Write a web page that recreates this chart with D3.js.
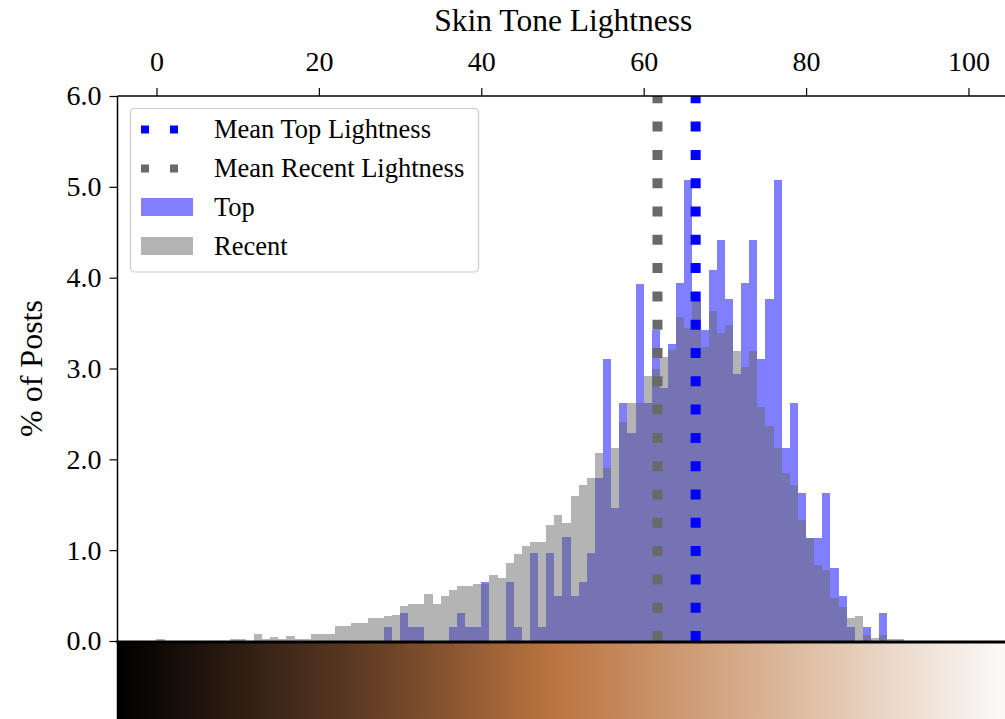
<!DOCTYPE html>
<html>
<head>
<meta charset="utf-8">
<script src="https://cdn.jsdelivr.net/npm/d3@7"></script>
<style>
  body { margin: 0; background: #fff; }
  svg text { font-family: "Liberation Serif", "DejaVu Serif", serif; fill: #000; }
</style>
</head>
<body>
<div id="chart"></div>
<script>
// histogram bins: one unit of lightness each, left edge = bin start
const binStarts = d3.range(0, 92);

// % of posts per bin, "Top" posts
const topPct = [
  0, 0, 0, 0, 0, 0, 0, 0, 0, 0,
  0, 0, 0, 0, 0, 0, 0, 0, 0, 0,
  0, 0, 0, 0, 0, 0, 0, 0, 0.15, 0,
  0.31, 0.15, 0.15, 0, 0, 0, 0.15, 0.31, 0.15, 0.15,
  0.65, 0, 0, 0.65, 0.15, 0, 0.97, 0.15, 0.97, 0.49,
  1.14, 0.49, 0.65, 0.97, 1.79, 3.10, 1.46, 2.62, 2.29, 3.93,
  2.62, 3.42, 2.78, 3.27, 3.94, 5.07, 3.74, 3.42, 4.08, 4.41,
  3.76, 2.94, 3.94, 4.41, 3.10, 3.76, 5.07, 2.12, 2.62, 1.63,
  1.13, 1.13, 1.63, 0.80, 0.49, 0.15, 0, 0.15, 0, 0.31,
  0, 0
];

// % of posts per bin, "Recent" posts
const recentPct = [
  0.02, 0, 0, 0, 0, 0, 0, 0, 0, 0.02,
  0.02, 0, 0.08, 0.02, 0.04, 0.02, 0.06, 0.02, 0.02, 0.08,
  0.08, 0.08, 0.165, 0.165, 0.2, 0.2, 0.25, 0.25, 0.27, 0.29,
  0.38, 0.41, 0.41, 0.52, 0.41, 0.50, 0.56, 0.61, 0.61, 0.63,
  0.63, 0.73, 0.69, 0.86, 0.96, 1.05, 1.09, 1.09, 1.28, 1.39,
  1.30, 1.60, 1.72, 1.79, 2.07, 1.90, 2.13, 2.41, 2.62, 2.62,
  2.92, 3.00, 3.13, 3.20, 3.57, 3.45, 3.74, 3.24, 3.63, 3.39,
  3.48, 3.19, 3.02, 3.19, 2.58, 2.37, 2.12, 1.85, 1.72, 1.33,
  1.13, 0.84, 0.78, 0.47, 0.37, 0.25, 0.27, 0.07, 0.03, 0.07,
  0.02, 0.02
];

const meanTop = 66.4;
const meanRecent = 61.7;

const xTicks = [0, 20, 40, 60, 80, 100];
const yTicks = [0, 1, 2, 3, 4, 5, 6];

const legendItems = [
  { label: 'Mean Top Lightness', type: 'line', color: '#0000ff' },
  { label: 'Mean Recent Lightness', type: 'line', color: '#696969' },
  { label: 'Top', type: 'patch', color: 'rgba(0,0,255,0.5)' },
  { label: 'Recent', type: 'patch', color: 'rgba(105,105,105,0.5)' }
];

// colorbar stops (skin tone scale)
const cbarStops = [
  { offset: 0, color: '#000000' },
  { offset: 0.25, color: '#553520' },
  { offset: 0.49, color: '#bb7440' },
  { offset: 0.75, color: '#dcb89c' },
  { offset: 1, color: '#fcfbfa' }
];

const width = 1005, height = 719;
const plotLeft = 117.5, plotTop = 96, plotBottom = 641;

const x = d3.scaleLinear().domain([-4.8, 105]).range([plotLeft, plotLeft + 109.8 * 8.12]);
const y = d3.scaleLinear().domain([0, 6]).range([plotBottom, plotTop]);

const svg = d3.select('#chart').append('svg')
  .attr('width', width).attr('height', height);

svg.append('rect').attr('width', width).attr('height', height).attr('fill', '#fff');

// Top histogram first, Recent drawn over it
svg.append('g').attr('shape-rendering', 'crispEdges').selectAll('rect')
  .data(binStarts.map((b, i) => ({ b, v: topPct[i] })).filter(d => d.v > 0))
  .enter().append('rect')
  .attr('x', d => x(d.b))
  .attr('width', d => x(d.b + 1) - x(d.b))
  .attr('y', d => y(d.v))
  .attr('height', d => y(0) - y(d.v))
  .attr('fill', 'rgba(0,0,255,0.5)');

svg.append('g').attr('shape-rendering', 'crispEdges').selectAll('rect')
  .data(binStarts.map((b, i) => ({ b, v: recentPct[i] })).filter(d => d.v > 0))
  .enter().append('rect')
  .attr('x', d => x(d.b))
  .attr('width', d => x(d.b + 1) - x(d.b))
  .attr('y', d => y(d.v))
  .attr('height', d => y(0) - y(d.v))
  .attr('fill', 'rgba(105,105,105,0.5)');

// mean lines (dotted, drawn from the bottom up)
[{ v: meanRecent, c: '#696969' }, { v: meanTop, c: '#0000ff' }].forEach(m => {
  svg.append('line')
    .attr('x1', x(m.v)).attr('x2', x(m.v))
    .attr('y1', y(0)).attr('y2', y(6))
    .attr('stroke', m.c)
    .attr('stroke-width', 10)
    .attr('stroke-dasharray', '10,18.3');
});

// colorbar under the axis
const defs = svg.append('defs');
const grad = defs.append('linearGradient').attr('id', 'skin')
  .attr('x1', '0%').attr('x2', '100%').attr('y1', '0%').attr('y2', '0%');
grad.selectAll('stop').data(cbarStops).enter().append('stop')
  .attr('offset', d => d.offset)
  .attr('stop-color', d => d.color);

svg.append('rect')
  .attr('x', plotLeft).attr('y', 643)
  .attr('width', x.range()[1] - plotLeft).attr('height', 90)
  .attr('fill', 'url(#skin)');

// spines
svg.append('line').attr('x1', plotLeft).attr('x2', width + 10).attr('y1', plotTop).attr('y2', plotTop)
  .attr('stroke', '#000').attr('stroke-width', 1.5);
svg.append('line').attr('x1', plotLeft).attr('x2', plotLeft).attr('y1', plotTop).attr('y2', height)
  .attr('stroke', '#000').attr('stroke-width', 1.5);
svg.append('line').attr('x1', plotLeft - 1).attr('x2', width + 10).attr('y1', 642).attr('y2', 642)
  .attr('stroke', '#000').attr('stroke-width', 3);

// top x axis
const xAxis = svg.append('g')
  .attr('transform', `translate(0,${plotTop})`)
  .call(d3.axisTop(x).tickValues(xTicks).tickSize(8).tickSizeOuter(0).tickPadding(17));
xAxis.select('.domain').remove();
xAxis.selectAll('line').attr('stroke', '#000').attr('stroke-width', 1.2);
xAxis.selectAll('text').attr('font-size', 28).style('font-family', '"Liberation Serif", serif');

// left y axis
const yAxis = svg.append('g')
  .attr('transform', `translate(${plotLeft},0)`)
  .call(d3.axisLeft(y).tickValues(yTicks).tickFormat(d3.format('.1f')).tickSize(8).tickSizeOuter(0).tickPadding(8));
yAxis.select('.domain').remove();
yAxis.selectAll('line').attr('stroke', '#000').attr('stroke-width', 1.2);
yAxis.selectAll('text').attr('font-size', 28).style('font-family', '"Liberation Serif", serif');

// axis titles
svg.append('text')
  .attr('x', (plotLeft + x.range()[1]) / 2)
  .attr('y', 31)
  .attr('text-anchor', 'middle')
  .attr('font-size', 31.5)
  .text('Skin Tone Lightness');

svg.append('text')
  .attr('transform', `translate(42,${(plotTop + plotBottom) / 2}) rotate(-90)`)
  .attr('text-anchor', 'middle')
  .attr('font-size', 32)
  .text('% of Posts');

// legend
const legend = svg.append('g');
legend.append('rect')
  .attr('x', 130.5).attr('y', 108.5)
  .attr('width', 348).attr('height', 163.5)
  .attr('rx', 4)
  .attr('fill', 'rgba(255,255,255,0.8)')
  .attr('stroke', '#cccccc')
  .attr('stroke-width', 1.2);

legendItems.forEach((d, i) => {
  const cy = 129.5 + i * 39;
  if (d.type === 'line') {
    legend.append('line')
      .attr('x1', 141).attr('x2', 193)
      .attr('y1', cy).attr('y2', cy)
      .attr('stroke', d.color)
      .attr('stroke-width', 8)
      .attr('stroke-dasharray', '8,21');
  } else {
    legend.append('rect')
      .attr('x', 141).attr('y', cy - 9.5)
      .attr('width', 52).attr('height', 18)
      .attr('fill', d.color);
  }
  legend.append('text')
    .attr('x', 214).attr('y', cy)
    .attr('dy', '0.33em')
    .attr('font-size', 26.5)
    .text(d.label);
});
</script>
</body>
</html>
